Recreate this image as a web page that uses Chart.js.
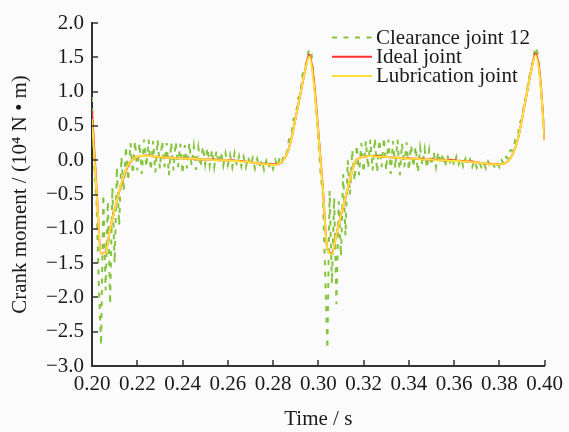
<!DOCTYPE html>
<html>
<head>
<meta charset="utf-8">
<script src="https://cdn.jsdelivr.net/npm/chart.js@4.4.1/dist/chart.umd.min.js"></script>
<style>
body { margin: 0; background: #fbfbfb; }
</style>
</head>
<body>
<canvas id="myChart" width="569" height="432"></canvas>
<script>
// time axis: 0.20 .. 0.40 s
const timeStart = 0.2
const clearanceStep = 0.001
const smoothStep = 0.002

const seriesLabels = ['Clearance joint 12', 'Ideal joint', 'Lubrication joint']

// clearance joint 12, one value every 0.001 s (10^4 N·m)
const clearanceJoint = [
	0.92, -0.10, -0.60, -1.80, -2.70, -0.50, -1.90, -0.60, -2.10, -0.40,
	-1.50, -0.10, -0.95, 0.05, -0.45, 0.20, -0.30, 0.25, -0.20, 0.28,
	-0.15, 0.25, -0.20, 0.30, -0.10, 0.30, -0.15, 0.28, -0.18, 0.30,
	-0.12, 0.28, -0.10, 0.25, -0.22, 0.26, -0.15, 0.27, -0.10, 0.24,
	-0.20, 0.22, -0.12, 0.25, -0.08, 0.20, -0.14, 0.18, -0.10, 0.20,
	-0.06, 0.18, -0.08, 0.15, -0.10, 0.14, -0.06, 0.12, -0.08, 0.10,
	-0.07, 0.08, -0.10, 0.10, -0.08, 0.06, -0.09, 0.05, -0.10, 0.05,
	-0.08, 0.03, -0.12, 0.02, -0.10, 0.00, -0.14, -0.01, -0.12, -0.02,
	-0.13, 0.00, -0.10, 0.05, -0.02, 0.12, 0.10, 0.30, 0.35, 0.60,
	0.62, 0.90, 0.95, 1.25, 1.30, 1.50, 1.62, 1.55, 1.20, 0.80,
	0.30, -0.20, -0.50, -1.60, -2.75, -0.45, -1.80, -0.55, -2.10, -0.60,
	-1.40, -0.20, -1.10, 0.00, -0.50, 0.15, -0.30, 0.22, -0.22, 0.25,
	-0.18, 0.28, -0.12, 0.30, -0.15, 0.32, -0.18, 0.30, -0.10, 0.33,
	-0.15, 0.30, -0.20, 0.28, -0.12, 0.30, -0.22, 0.25, -0.10, 0.26,
	-0.15, 0.22, -0.10, 0.20, -0.18, 0.18, -0.08, 0.16, -0.12, 0.15,
	-0.08, 0.12, -0.10, 0.12, -0.06, 0.10, -0.10, 0.08, -0.07, 0.06,
	-0.08, 0.05, -0.06, 0.04, -0.09, 0.02, -0.08, 0.01, -0.10, 0.00,
	-0.11, -0.02, -0.10, -0.03, -0.12, -0.02, -0.10, -0.04, -0.11, -0.03,
	-0.10, 0.00, -0.06, 0.05, 0.02, 0.15, 0.14, 0.30, 0.32, 0.55,
	0.60, 0.85, 0.95, 1.20, 1.30, 1.50, 1.65, 1.55, 1.20, 0.80,
	0.30
]

// ideal joint, one value every 0.002 s
const idealJoint = [
	0.72, -0.40, -1.36, -1.34, -1.00, -0.72, -0.46, -0.24, -0.08, 0.01,
	0.05, 0.06, 0.07, 0.06, 0.05, 0.05, 0.04, 0.04, 0.03, 0.03,
	0.03, 0.02, 0.02, 0.02, 0.01, 0.01, 0.01, 0.01, 0.00, 0.00,
	0.00, 0.00, -0.01, -0.01, -0.02, -0.03, -0.04, -0.05, -0.05, -0.06,
	-0.06, -0.06, -0.02, 0.08, 0.30, 0.62, 0.95, 1.28, 1.54, 1.18,
	0.42, -0.40, -1.30, -1.36, -1.08, -0.80, -0.55, -0.28, -0.04, 0.03,
	0.05, 0.06, 0.06, 0.06, 0.05, 0.05, 0.04, 0.04, 0.03, 0.03,
	0.03, 0.02, 0.02, 0.02, 0.01, 0.01, 0.01, 0.00, 0.00, 0.00,
	0.00, -0.01, -0.01, -0.02, -0.02, -0.03, -0.04, -0.05, -0.05, -0.06,
	-0.06, -0.05, -0.01, 0.10, 0.28, 0.60, 0.95, 1.30, 1.56, 1.22,
	0.29
]

// lubrication joint, one value every 0.002 s
const lubricationJoint = [
	0.60, -0.45, -1.36, -1.35, -1.00, -0.72, -0.45, -0.23, -0.07, 0.01,
	0.05, 0.06, 0.06, 0.06, 0.05, 0.05, 0.04, 0.04, 0.03, 0.03,
	0.03, 0.02, 0.02, 0.02, 0.01, 0.01, 0.01, 0.00, 0.00, 0.00,
	0.00, -0.01, -0.01, -0.02, -0.02, -0.03, -0.04, -0.05, -0.06, -0.06,
	-0.07, -0.06, -0.02, 0.08, 0.30, 0.62, 0.95, 1.28, 1.51, 1.12,
	0.38, -0.42, -1.30, -1.37, -1.08, -0.80, -0.54, -0.28, -0.04, 0.03,
	0.05, 0.06, 0.06, 0.05, 0.05, 0.05, 0.04, 0.04, 0.03, 0.03,
	0.02, 0.02, 0.02, 0.01, 0.01, 0.01, 0.00, 0.00, 0.00, -0.01,
	-0.01, -0.01, -0.02, -0.02, -0.03, -0.03, -0.04, -0.05, -0.06, -0.06,
	-0.06, -0.05, -0.01, 0.10, 0.28, 0.60, 0.95, 1.30, 1.53, 1.18,
	0.29
]

function toPoints(values, step) {
	return values.map((v, i) => ({ x: +(timeStart + i * step).toFixed(3), y: v }))
}

const serif = 'Liberation Serif, Times New Roman, serif'

// ticks pointing into the plot
const innerTicks = {
	id: 'innerTicks',
	afterDraw(chart) {
		const { ctx, chartArea, scales } = chart
		ctx.save()
		ctx.strokeStyle = '#333'
		ctx.lineWidth = 1.5
		ctx.beginPath()
		scales.x.ticks.forEach(t => {
			const px = Math.round(scales.x.getPixelForValue(t.value))
			ctx.moveTo(px, chartArea.bottom)
			ctx.lineTo(px, chartArea.bottom - 6)
		})
		scales.y.ticks.forEach(t => {
			const py = Math.round(scales.y.getPixelForValue(t.value))
			ctx.moveTo(chartArea.left, py)
			ctx.lineTo(chartArea.left + 6, py)
		})
		ctx.stroke()
		ctx.restore()
	}
}

const sideLegend = {
	id: 'sideLegend',
	afterDraw(chart) {
		const { ctx } = chart
		ctx.save()
		ctx.font = '21px ' + serif
		ctx.textBaseline = 'middle'
		chart.data.datasets.forEach((ds, i) => {
			const y = 37.5 + i * 19.2
			ctx.strokeStyle = ds.borderColor
			ctx.lineWidth = 2
			ctx.setLineDash(ds.borderDash || [])
			ctx.beginPath()
			ctx.moveTo(332, y)
			ctx.lineTo(372, y)
			ctx.stroke()
			ctx.setLineDash([])
			ctx.fillStyle = '#1a1a1a'
			ctx.fillText(ds.label, 376, y + 1)
		})
		ctx.restore()
	}
}

const cfg = {
	type: 'line',
	data: {
		datasets: [
			{
				label: seriesLabels[0],
				data: toPoints(clearanceJoint, clearanceStep),
				borderColor: '#86c440',
				borderWidth: 2,
				borderDash: [5, 6.5],
				pointRadius: 0,
				tension: 0,
				order: 3
			},
			{
				label: seriesLabels[1],
				data: toPoints(idealJoint, smoothStep),
				borderColor: '#ff3030',
				borderWidth: 2,
				pointRadius: 0,
				cubicInterpolationMode: 'monotone',
				order: 2
			},
			{
				label: seriesLabels[2],
				data: toPoints(lubricationJoint, smoothStep),
				borderColor: '#ffe03a',
				borderWidth: 2,
				pointRadius: 0,
				cubicInterpolationMode: 'monotone',
				order: 1
			}
		]
	},
	options: {
		responsive: false,
		animation: false,
		layout: { padding: { top: 23, right: 19, left: 0, bottom: 0 } },
		plugins: {
			legend: { display: false },
			tooltip: { enabled: false }
		},
		scales: {
			x: {
				type: 'linear',
				min: 0.2,
				max: 0.4,
				afterFit: (s) => { s.height = 66 },
				ticks: {
					stepSize: 0.02,
					padding: 6,
					color: '#1a1a1a',
					font: { family: serif, size: 21 },
					maxRotation: 0,
					autoSkip: false,
					callback: (v) => v.toFixed(2)
				},
				grid: { display: true, drawOnChartArea: false, drawTicks: false },
				border: { display: true, color: '#333', width: 2 },
				title: {
					display: true,
					text: 'Time / s',
					color: '#1a1a1a',
					font: { family: serif, size: 21 },
					padding: { top: 0, bottom: 0 }
				}
			},
			y: {
				min: -3,
				max: 2,
				afterFit: (s) => { s.width = 92 },
				ticks: {
					stepSize: 0.5,
					padding: 8,
					color: '#1a1a1a',
					font: { family: serif, size: 21 },
					callback: (v) => v.toFixed(1).replace('-', '\u2212')
				},
				grid: { display: true, drawOnChartArea: false, drawTicks: false },
				border: { display: true, color: '#333', width: 2 },
				title: {
					display: true,
					text: 'Crank moment / (10\u2074 N \u2022 m)',
					color: '#1a1a1a',
					font: { family: serif, size: 21 },
					padding: { top: 8, bottom: 0 }
				}
			}
		}
	},
	plugins: [innerTicks, sideLegend]
}

new Chart('myChart', cfg)
</script>
</body>
</html>
